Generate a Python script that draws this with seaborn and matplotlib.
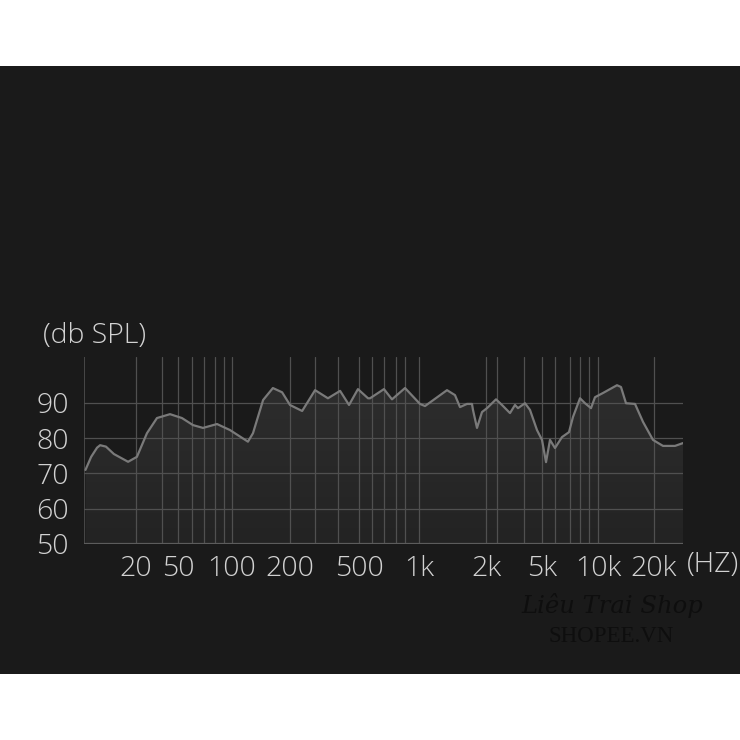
import numpy as np
import pandas as pd
import matplotlib
matplotlib.use("Agg")
import matplotlib.pyplot as plt
import matplotlib.patches as mpatches
from matplotlib import font_manager as fm
import seaborn as sns

# -----------------------------------------------------------
# Data
# -----------------------------------------------------------
freq_hz = [10.2, 11.0, 11.9, 12.4, 13.4, 14.9, 18.0, 20.4, 25.4, 31.6, 42,
           52.6, 60.6, 68.9, 82.5, 97.4, 121, 128.5, 145, 163, 182, 200,
           235, 279, 331, 389, 438, 493, 555, 568, 667, 732, 851, 1010,
           1064, 1336, 1451, 1528, 1643, 1730, 1748, 1822, 1919, 2033, 2356,
           2598, 2962, 3214, 3375, 3786, 4108, 4606, 5000, 5255, 5520, 5873,
           6404, 6983, 7338, 8003, 8514, 9170, 9635, 10640, 12650, 13290,
           14140, 15810, 17460, 19750, 22680, 26820, 30000]
spl_db = [71.0, 74.7, 77.3, 78.0, 77.6, 75.5, 73.3, 74.7, 81.4, 85.7, 86.8,
          85.7, 83.7, 82.9, 84.0, 82.3, 79.0, 81.4, 90.8, 94.2, 93.0, 89.4,
          87.7, 93.6, 91.3, 93.4, 89.4, 93.9, 91.3, 91.3, 93.9, 91.0, 94.2,
          89.7, 89.1, 93.6, 92.2, 88.8, 89.7, 89.7, 88.0, 82.9, 87.4, 88.5,
          91.0, 89.4, 87.1, 89.4, 88.5, 89.9, 88.0, 82.3, 79.5, 73.2, 79.5,
          77.2, 80.3, 81.7, 86.0, 91.3, 89.9, 88.5, 91.6, 92.8, 95.0, 94.5,
          89.9, 89.7, 84.6, 79.5, 77.8, 77.8, 78.6]

major_ticks = [20, 50, 100, 200, 500, 1000, 2000, 5000, 10000, 20000]
major_labels = ["20", "50", "100", "200", "500", "1k", "2k", "5k", "10k", "20k"]
minor_lines = [35, 60, 70, 80, 90, 280, 380, 580, 670, 770, 850,
               2400, 3700, 5900, 7100, 8000, 9000]
y_ticks = [50, 60, 70, 80, 90]

df = pd.DataFrame({"freq": freq_hz, "spl": spl_db})

# -----------------------------------------------------------
# Warped frequency axis (the original is hand spaced, not true log)
# -----------------------------------------------------------
anchor_f = np.log10([10, 20, 50, 100, 200, 500, 1000, 2000, 5000, 10000, 20000, 30000])
anchor_p = np.array([84, 136, 178, 232, 290, 359, 419, 486, 542, 598, 654, 683], float)


def fwd(f):
    f = np.clip(np.asarray(f, float), 1e-3, None)
    return np.interp(np.log10(f), anchor_f, anchor_p)


def inv(p):
    return 10 ** np.interp(np.asarray(p, float), anchor_p, anchor_f)


# pick a thin (non condensed) sans if one is installed
light_font = None
for fam in ["Open Sans", "Lato", "Roboto", "Inter", "Noto Sans"]:
    hits = [f for f in fm.fontManager.ttflist
            if f.name == fam and isinstance(f.weight, int) and f.weight <= 300
            and f.style == "normal" and f.stretch == "normal"
            and "ondensed" not in f.fname and "arrow" not in f.fname]
    if hits:
        light_font = fm.FontProperties(fname=sorted(hits, key=lambda h: -h.weight)[0].fname)
        break
if light_font is None:
    light_font = fm.FontProperties(family="Open Sans", weight="light")

# -----------------------------------------------------------
# Figure
# -----------------------------------------------------------
sns.set_theme(style="dark")
plt.rcParams["font.family"] = ["Open Sans", "DejaVu Sans"]

BG = "#1a1a1a"
GRID = "#505050"
TXT = "#d2d2d2"
FS = 20.5

fig = plt.figure(figsize=(7.4, 7.4), dpi=100, facecolor="white")
fig.patches.append(mpatches.Rectangle((0, 66 / 740), 1, 608 / 740, transform=fig.transFigure,
                                      facecolor=BG, edgecolor="none", zorder=-5))

ax = fig.add_axes([84 / 740, 196 / 740, 599 / 740, 187 / 740])
ax.set_zorder(2)
ax.set_facecolor("none")
ax.set_xscale("function", functions=(fwd, inv))
ax.set_xlim(10, 30000)
ax.set_ylim(50, 103)

# curve fill with soft vertical gradient
poly = ax.fill_between(df["freq"], df["spl"], 50, color="none", zorder=1)
grad = np.linspace(0, 1, 256).reshape(-1, 1)
img = ax.imshow(grad, extent=[0, 1, 0, 1], transform=ax.transAxes, aspect="auto",
                cmap=matplotlib.colors.LinearSegmentedColormap.from_list("g", ["#232323", "#2f2f2f"]),
                origin="lower", zorder=1)
img.set_clip_path(poly.get_paths()[0], transform=ax.transData)

# grid lines (drawn over the fill, like the original)
for f in major_ticks + minor_lines:
    ax.axvline(f, color=GRID, lw=0.9, zorder=2)
ax.axvline(10, color=GRID, lw=1.2, zorder=2)
for y in y_ticks[1:]:
    ax.axhline(y, color=GRID, lw=0.9, zorder=2)
ax.axhline(50, color="#5c5c5c", lw=1.6, zorder=2)

sns.lineplot(data=df, x="freq", y="spl", ax=ax, color="#7a7a7a", lw=1.6, zorder=3)

ax.set_xlim(10, 30000)
ax.set_ylim(50, 103)
ax.set_xticks(major_ticks)
ax.set_xticklabels(major_labels)
ax.set_yticks(y_ticks)
ax.set_xticks([], minor=True)
ax.tick_params(axis="both", length=0, colors=TXT)
ax.tick_params(axis="x", pad=8)
ax.tick_params(axis="y", pad=11)
for lab in ax.get_xticklabels() + ax.get_yticklabels():
    lab.set_fontproperties(light_font)
    lab.set_fontsize(FS)
ax.set_xlabel("")
ax.set_ylabel("")
ax.grid(False)
for s in ax.spines.values():
    s.set_visible(False)

fig.text(43 / 740, 1 - 336 / 740, "(db SPL)", color=TXT, fontproperties=light_font,
         fontsize=FS, ha="left", va="center")
fig.text(687 / 740, 1 - 565 / 740, "(HZ)", color=TXT, fontproperties=light_font,
         fontsize=FS, ha="left", va="center")

# faint watermark
fig.text(612 / 740, 1 - 606 / 740, "Liêu Trai Shop", color="#0e0e0e", fontsize=17.5,
         family="DejaVu Serif", style="italic", ha="center", va="center")
fig.text(611 / 740, 1 - 637 / 740, "SHOPEE.VN", color="#0e0e0e", fontsize=16.5,
         family="Liberation Serif", ha="center", va="center")

fig.savefig("out.png", dpi=100, facecolor="white")
